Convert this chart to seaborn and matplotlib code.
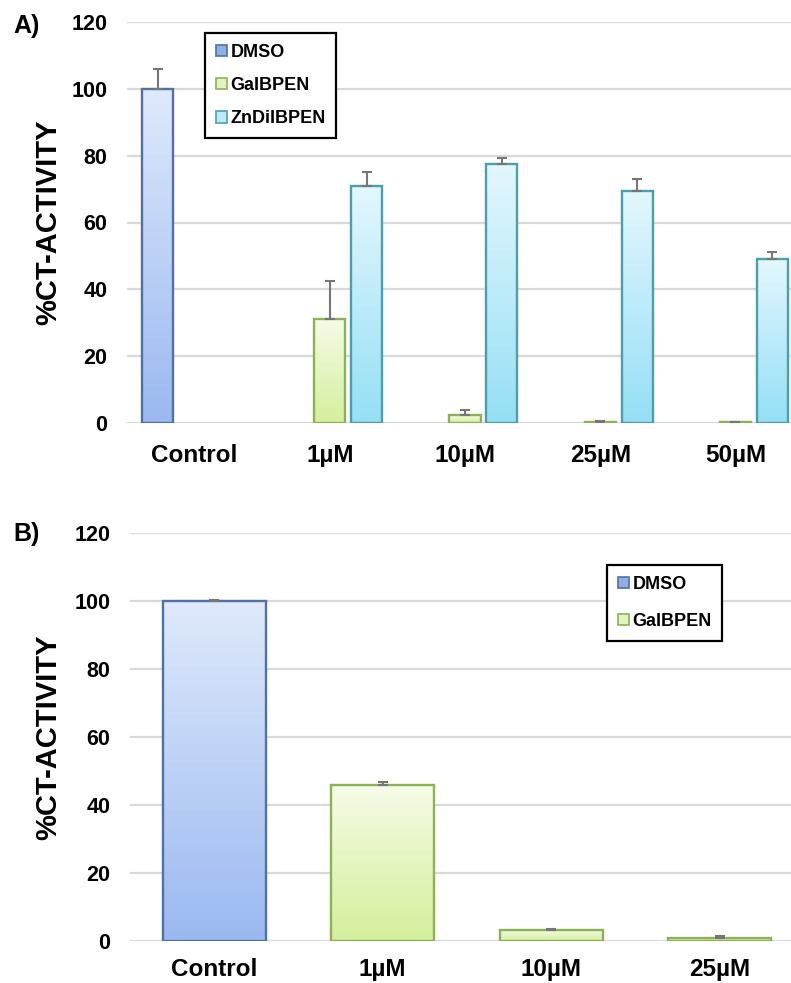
import numpy as np
import pandas as pd
import matplotlib
matplotlib.use("Agg")
import matplotlib.pyplot as plt
from matplotlib.patches import Patch
from matplotlib.colors import LinearSegmentedColormap, to_hex
import seaborn as sns

# ---- Panel A: DMSO control vs. GaIBPEN and ZnDiIBPEN ----
conc_a = ["Control", "1µM", "10µM", "25µM", "50µM"]
series_a = ["DMSO", "GaIBPEN", "ZnDiIBPEN"]
dmso_a = [100.0]
dmso_a_err = [6.0]
gai_a = [31.2, 2.3, 0.4, 0.3]
gai_a_err = [11.2, 1.6, 0.3, 0.1]
zn_a = [71.0, 77.5, 69.5, 49.2]
zn_a_err = [4.0, 1.7, 3.6, 2.0]

# ---- Panel B: DMSO control vs. GaIBPEN ----
conc_b = ["Control", "1µM", "10µM", "25µM"]
series_b = ["DMSO", "GaIBPEN"]
dmso_b = [100.0]
dmso_b_err = [0.3]
gai_b = [45.9, 3.3, 1.0]
gai_b_err = [0.9, 0.2, 0.4]

yticks = [0, 20, 40, 60, 80, 100, 120]

# fill gradients (bottom colour, top colour) and outline colours
style = {
    "DMSO": dict(bottom="#9ab9f0", top="#dfe9fb", edge="#4f71a6", key="#8fb0e6"),
    "GaIBPEN": dict(bottom="#d4ef9c", top="#f6fbe8", edge="#8cb256", key="#e2f4bd"),
    "ZnDiIBPEN": dict(bottom="#95dff5", top="#e4f7fd", edge="#4b9fad", key="#bdeaf7"),
}

sns.set_style("white")
plt.rcParams["font.family"] = ["Liberation Sans", "DejaVu Sans"]
for k in ("text.color", "axes.labelcolor", "xtick.color", "ytick.color"):
    plt.rcParams[k] = "black"

W, H = 791, 983
fig = plt.figure(figsize=(W / 100, H / 100), dpi=100)


def long_table(conc, groups):
    rows = []
    for name, cats, vals, errs in groups:
        for c, v, e in zip(cats, vals, errs):
            rows.append({"conc": c, "series": name, "activity": v, "err": e})
    return pd.DataFrame(rows)


def draw_panel(ax, conc, series, df, width, gap, xpad):
    pal = {s: style[s]["key"] for s in series}
    sns.barplot(data=df, x="conc", y="activity", hue="series", order=conc,
                hue_order=series, palette=pal, width=width, gap=gap,
                errorbar=None, legend=False, ax=ax, linewidth=1.7,
                saturation=1)
    key_to_series = {to_hex(style[s]["key"]): s for s in series}
    err_lookup = {(r.conc, r.series): r.err for r in df.itertuples()}
    for bar in list(ax.patches):
        s = key_to_series.get(to_hex(bar.get_facecolor()))
        if s is None:
            continue
        x0, y0 = bar.get_x(), bar.get_y()
        w, h = bar.get_width(), bar.get_height()
        if not np.isfinite(h) or h == 0:
            continue
        cmap = LinearSegmentedColormap.from_list(
            s, [style[s]["bottom"], style[s]["top"]])
        grad = np.linspace(0, 1, 256).reshape(-1, 1)
        im = ax.imshow(grad, extent=[x0, x0 + w, y0, y0 + h], origin="lower",
                       aspect="auto", cmap=cmap, zorder=bar.get_zorder() - 0.05,
                       interpolation="bilinear")
        im.set_clip_path(bar)
        bar.set_facecolor("none")
        bar.set_edgecolor(style[s]["edge"])
        cat = conc[int(round(x0 + w / 2))]
        e = err_lookup[(cat, s)]
        ax.errorbar(x0 + w / 2, h, yerr=[[0], [e]], fmt="none",
                    ecolor="#767676", elinewidth=1.5, capsize=3.6,
                    capthick=1.5, zorder=bar.get_zorder() + 1)
    ax.set_xlim(-0.5, len(conc) - 0.5)
    ax.set_ylim(0, 120)
    ax.set_yticks(yticks)
    ax.yaxis.grid(True, color="#d9d9d9", linewidth=1.6)
    ax.set_axisbelow(True)
    for sp in ax.spines.values():
        sp.set_visible(False)
    ax.tick_params(axis="y", length=0, pad=14, labelsize=15.5)
    ax.tick_params(axis="x", length=0, pad=xpad, labelsize=17.5)
    for t in ax.get_xticklabels() + ax.get_yticklabels():
        t.set_fontweight("bold")
    ax.set_xlabel("")
    ax.set_ylabel("%CT-ACTIVITY", fontsize=21, fontweight="bold")


def add_legend(ax, series, x_px, y_px, labelspacing):
    handles = [Patch(facecolor=style[s]["key"], edgecolor=style[s]["edge"],
                     linewidth=1.2, label=s) for s in series]
    leg = ax.legend(handles=handles, loc="upper left",
                    bbox_to_anchor=(x_px / W, 1 - y_px / H),
                    bbox_transform=fig.transFigure, borderaxespad=0,
                    frameon=True, fancybox=False, framealpha=1,
                    edgecolor="black", handlelength=0.6, handleheight=0.6,
                    handletextpad=0.2, labelspacing=labelspacing,
                    borderpad=0.6, prop=dict(weight="bold", size=13))
    leg.get_frame().set_linewidth(1.6)


# Panel A
ax_a = fig.add_axes([127 / W, 560 / H, 676 / W, 401 / H])
df_a = long_table(conc_a, [
    ("DMSO", conc_a[:1], dmso_a, dmso_a_err),
    ("GaIBPEN", conc_a[1:], gai_a, gai_a_err),
    ("ZnDiIBPEN", conc_a[1:], zn_a, zn_a_err),
])
draw_panel(ax_a, conc_a, series_a, df_a, width=0.82, gap=0.16, xpad=15)
ax_a.yaxis.set_label_coords(-0.096, 0.5)
add_legend(ax_a, series_a, 205, 33, 0.9)

# Panel B
ax_b = fig.add_axes([130 / W, 42 / H, 674 / W, 408 / H])
df_b = long_table(conc_b, [
    ("DMSO", conc_b[:1], dmso_b, dmso_b_err),
    ("GaIBPEN", conc_b[1:], gai_b, gai_b_err),
])
draw_panel(ax_b, conc_b, series_b, df_b, width=0.748, gap=0.18, xpad=12)
ax_b.yaxis.set_label_coords(-0.101, 0.5)
add_legend(ax_b, series_b, 607, 565, 1.1)

fig.text(13 / W, 1 - 33 / H, "A)", fontsize=18, fontweight="bold", va="baseline")
fig.text(13 / W, 1 - 541 / H, "B)", fontsize=18, fontweight="bold", va="baseline")

fig.savefig("out.png", dpi=100, facecolor="white")
